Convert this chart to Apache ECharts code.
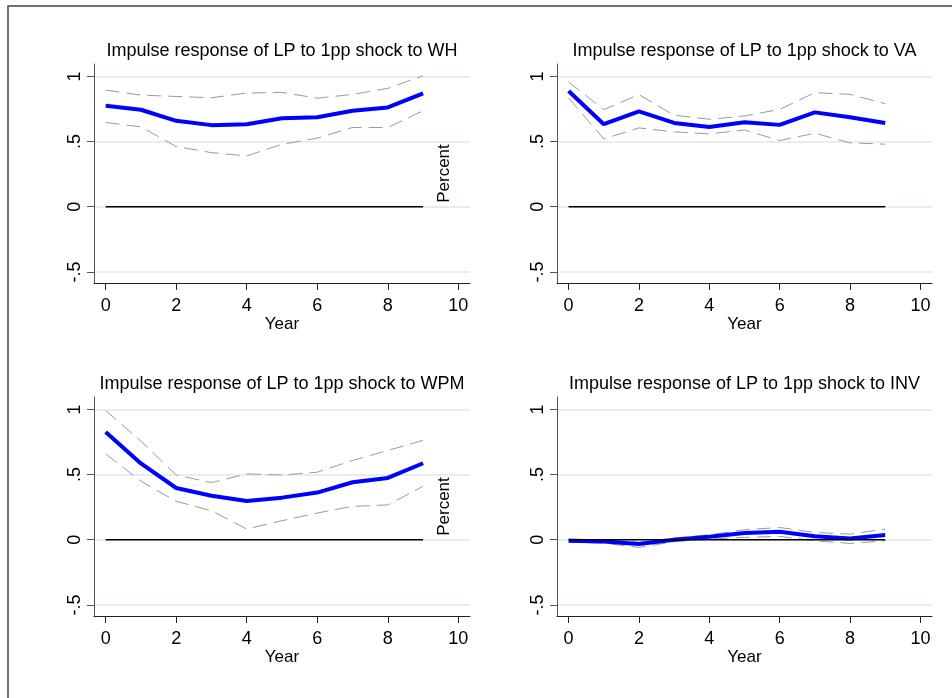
<!DOCTYPE html>
<html>
<head>
<meta charset="utf-8">
<script src="https://cdn.jsdelivr.net/npm/echarts@6/dist/echarts.min.js"></script>
<style>
  html, body { margin: 0; padding: 0; background: #fff; }
  #chart { width: 952px; height: 698px; }
</style>
</head>
<body>
<div id="chart"></div>
<script>
// horizon (years after shock)
const years = [0, 1, 2, 3, 4, 5, 6, 7, 8, 9];
const xTicks = [0, 2, 4, 6, 8, 10];
const yTicks = [-0.5, 0, 0.5, 1];
const yTickLabels = ["-.5", "0", ".5", "1"];

const shocks = ["WH", "VA", "WPM", "INV"];

// point estimate + upper/lower bands
const whIrf   = [0.774, 0.744, 0.659, 0.626, 0.633, 0.679, 0.687, 0.736, 0.762, 0.869];
const whUpper = [0.895, 0.856, 0.846, 0.836, 0.872, 0.877, 0.833, 0.862, 0.908, 1.005];
const whLower = [0.646, 0.613, 0.462, 0.415, 0.390, 0.479, 0.526, 0.608, 0.608, 0.736];

const vaIrf   = [0.888, 0.633, 0.732, 0.643, 0.612, 0.648, 0.628, 0.724, 0.686, 0.643];
const vaUpper = [0.957, 0.745, 0.860, 0.702, 0.671, 0.696, 0.747, 0.875, 0.862, 0.791];
const vaLower = [0.834, 0.520, 0.605, 0.574, 0.559, 0.589, 0.508, 0.564, 0.490, 0.480];

const wpmIrf   = [0.826, 0.585, 0.397, 0.338, 0.297, 0.323, 0.362, 0.441, 0.474, 0.587];
const wpmUpper = [0.992, 0.756, 0.497, 0.438, 0.505, 0.497, 0.518, 0.608, 0.685, 0.762];
const wpmLower = [0.659, 0.449, 0.295, 0.223, 0.082, 0.146, 0.205, 0.256, 0.267, 0.410];

const invIrf   = [-0.008, -0.013, -0.033, 0.000, 0.023, 0.051, 0.061, 0.026, 0.010, 0.036];
const invUpper = [0.005, 0.000, -0.020, 0.013, 0.038, 0.077, 0.094, 0.056, 0.043, 0.082];
const invLower = [-0.020, -0.026, -0.059, -0.015, 0.005, 0.018, 0.026, -0.008, -0.028, -0.008];

const zeroLine = [0, 0, 0, 0, 0, 0, 0, 0, 0, 0];

const panels = [
  { irf: whIrf, upper: whUpper, lower: whLower, percent: true },
  { irf: vaIrf, upper: vaUpper, lower: vaLower, percent: false },
  { irf: wpmIrf, upper: wpmUpper, lower: wpmLower, percent: true },
  { irf: invIrf, upper: invUpper, lower: invLower, percent: false },
];

// grid boxes (left, top, width, height)
const boxes = [
  [94, 64, 376, 219],
  [557, 64, 375, 219],
  [94, 397, 376, 219],
  [557, 397, 375, 219],
];

const FONT = "Liberation Sans, Arial, sans-serif";
const toXY = (vals) => years.map((y, i) => [y, vals[i]]);

const grid = [], xAxis = [], yAxis = [], series = [], title = [], graphic = [];

panels.forEach((p, i) => {
  const [l, t, w, h] = boxes[i];
  grid.push({ left: l, top: t, width: w, height: h });

  title.push({
    text: "Impulse response of LP to 1pp shock to " + shocks[i],
    left: l + w / 2,
    top: t - 22,
    textAlign: "center",
    padding: 0,
    textStyle: { fontFamily: FONT, fontSize: 18, fontWeight: "normal", color: "#000" },
  });

  xAxis.push({
    type: "value",
    gridIndex: i,
    min: -0.33,
    max: 10.33,
    name: "Year",
    nameLocation: "middle",
    nameGap: 32,
    nameTextStyle: { fontFamily: FONT, fontSize: 17, color: "#000" },
    axisLine: { show: true, onZero: false, lineStyle: { color: "#222", width: 1 } },
    axisTick: { show: true, customValues: xTicks, length: 7, lineStyle: { color: "#222" } },
    axisLabel: { customValues: xTicks, fontFamily: FONT, fontSize: 18, color: "#000", margin: 14 },
    splitLine: { show: false },
  });

  yAxis.push({
    type: "value",
    gridIndex: i,
    min: -0.585,
    max: 1.095,
    axisLine: { show: true, onZero: false, lineStyle: { color: "#555", width: 1 } },
    axisTick: { show: true, customValues: yTicks, length: 7, lineStyle: { color: "#555" } },
    axisLabel: {
      customValues: yTicks,
      rotate: 90,
      margin: 10,
      fontFamily: FONT,
      fontSize: 18,
      color: "#000",
      formatter: (v) => yTickLabels[yTicks.indexOf(v)],
    },
    splitLine: { show: true, lineStyle: { color: "#e6eef0", width: 2 } },
  });

  const base = { type: "line", xAxisIndex: i, yAxisIndex: i, symbol: "none", silent: true };
  series.push(
    { ...base, data: toXY(p.upper), z: 2, lineStyle: { color: "#9a9a9a", width: 1, type: [14, 7] } },
    { ...base, data: toXY(p.lower), z: 2, lineStyle: { color: "#9a9a9a", width: 1, type: [14, 7] } },
    { ...base, data: toXY(p.irf), z: 3, lineStyle: { color: "#0000ff", width: 4 } },
    { ...base, data: toXY(zeroLine), z: 4, lineStyle: { color: "#000", width: 1.5 } }
  );

  if (p.percent) {
    graphic.push({
      type: "text",
      x: l + w - 26,
      y: t + h / 2,
      rotation: Math.PI / 2,
      style: {
        text: "Percent",
        fontFamily: FONT,
        fontSize: 17,
        fill: "#000",
        align: "center",
        verticalAlign: "middle",
      },
    });
  }
});

// outer frame (only top and left edges visible in the original)
graphic.push({
  type: "rect",
  shape: { x: 8, y: 6, width: 1200, height: 1200 },
  style: { fill: "none", stroke: "#444", lineWidth: 1.5 },
});

const chart = echarts.init(document.getElementById("chart"));
chart.setOption({
  backgroundColor: "#fff",
  animation: false,
  title,
  grid,
  xAxis,
  yAxis,
  series,
  graphic,
});
</script>
</body>
</html>
